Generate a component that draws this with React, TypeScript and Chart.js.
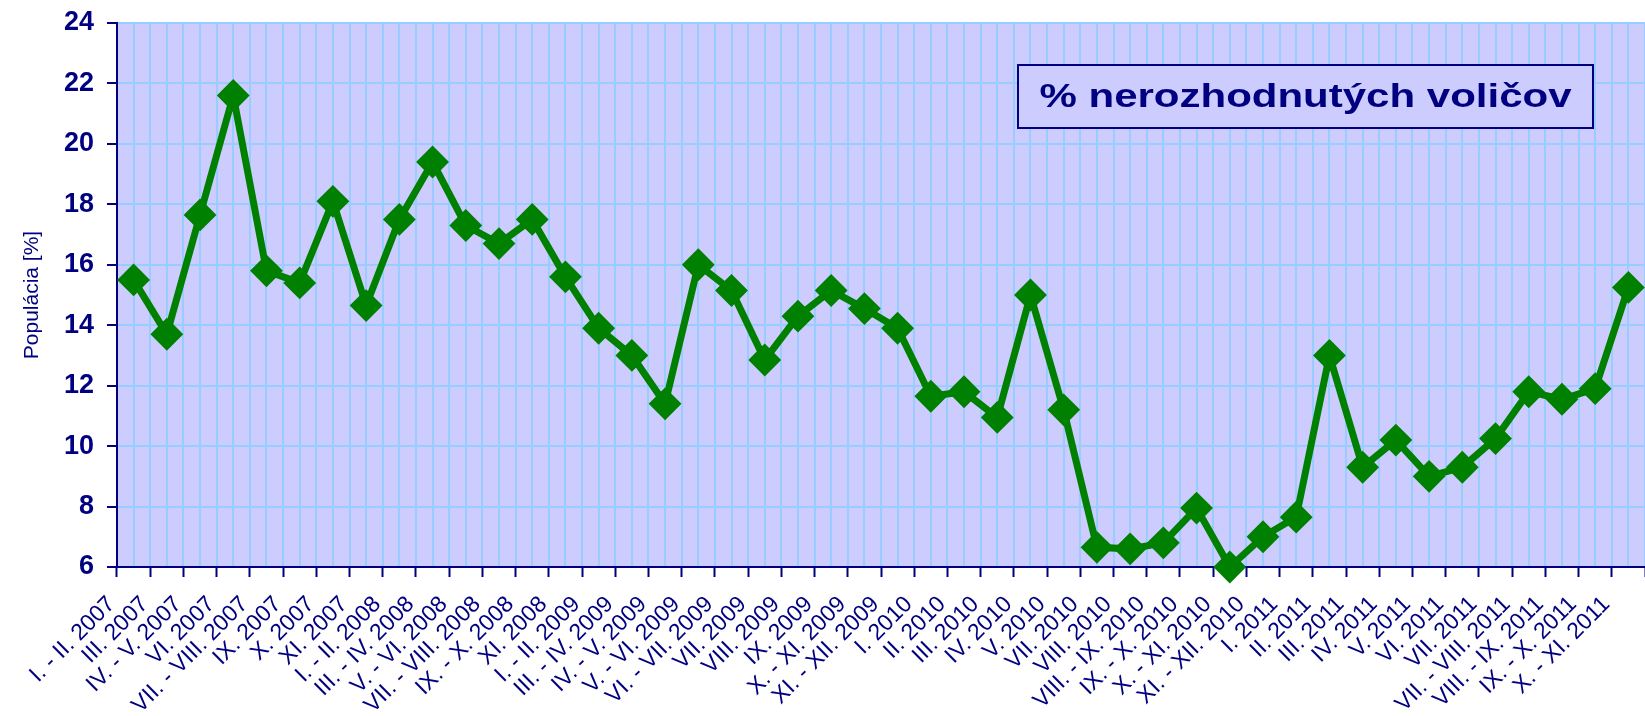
import React, { useEffect, useRef } from 'react';
import { Chart, registerables } from 'chart.js';

Chart.register(...registerables);

const categories: string[] = [
  'I. - II. 2007', 'III. 2007', 'IV. - V. 2007', 'VI. 2007', 'VII. - VIII. 2007',
  'IX. 2007', 'X. 2007', 'XI. 2007', 'I. - II. 2008', 'III. - IV. 2008',
  'V. - VI. 2008', 'VII. - VIII. 2008', 'IX. - X. 2008', 'XI. 2008', 'I. - II. 2009',
  'III. - IV. 2009', 'IV. - V. 2009', 'V. - VI. 2009', 'VI. - VII. 2009', 'VII. 2009',
  'VIII. 2009', 'IX. 2009', 'X. - XI. 2009', 'XI. - XII. 2009', 'I. 2010',
  'II. 2010', 'III. 2010', 'IV. 2010', 'V. 2010', 'VII. 2010',
  'VIII. 2010', 'VIII. - IX. 2010', 'IX. - X. 2010', 'X. - XI. 2010', 'XI. - XII. 2010',
  'I. 2011', 'II. 2011', 'III. 2011', 'IV. 2011', 'V. 2011',
  'VI. 2011', 'VII. 2011', 'VII. - VIII. 2011', 'VIII. - IX. 2011', 'IX. - X. 2011',
  'X. - XI. 2011',
];

const undecidedPct: number[] = [
  15.5, 13.7, 17.65, 21.6, 15.8,
  15.4, 18.1, 14.65, 17.5, 19.4,
  17.3, 16.7, 17.5, 15.6, 13.9,
  13.0, 11.4, 16.0, 15.15, 12.85,
  14.3, 15.15, 14.55, 13.9, 11.65,
  11.8, 10.95, 15.0, 11.2, 6.65,
  6.6, 6.8, 7.95, 6.0, 7.0,
  7.65, 13.0, 9.3, 10.2, 9.0,
  9.3, 10.25, 11.8, 11.55, 11.9,
  15.25,
];

const yMin = 6;
const yMax = 24;
const yStep = 2;

const seriesLabel = '% nerozhodnutých voličov';
const yAxisTitle = 'Populácia [%]';

const NAVY = '#000080';
const GRID = '#99CCFF';
const PLOT_BG = '#CCCCFF';
const GREEN = '#008000';
const FONT = '"Liberation Sans", Arial, sans-serif';

const plotBackground = {
  id: 'plotBackground',
  beforeDraw(chart: any) {
    const { ctx, chartArea } = chart;
    ctx.save();
    ctx.fillStyle = PLOT_BG;
    ctx.fillRect(chartArea.left, chartArea.top, chartArea.right - chartArea.left, chartArea.bottom - chartArea.top);
    ctx.restore();
  },
};

const legendBox = {
  id: 'legendBox',
  afterDatasetsDraw(chart: any) {
    const { ctx, chartArea } = chart;
    const label = chart.data.datasets[0].label as string;
    const w = 575;
    const h = 63;
    const x = chartArea.right - 52 - w;
    const y = chartArea.top + 42;
    ctx.save();
    ctx.fillStyle = PLOT_BG;
    ctx.fillRect(x, y, w, h);
    ctx.strokeStyle = NAVY;
    ctx.lineWidth = 2;
    ctx.strokeRect(x, y, w, h);
    ctx.font = 'bold 34px ' + FONT;
    const tw = ctx.measureText(label).width;
    const sx = 532 / tw;
    ctx.translate(x + w / 2, y + 42);
    ctx.scale(sx, 1);
    ctx.fillStyle = NAVY;
    ctx.textAlign = 'center';
    ctx.textBaseline = 'alphabetic';
    ctx.fillText(label, 0, 0);
    ctx.restore();
  },
};

export default function App() {
  const canvasRef = useRef<HTMLCanvasElement | null>(null);

  useEffect(() => {
    if (!canvasRef.current) return;
    const chart = new Chart(canvasRef.current, {
      type: 'line',
      data: {
        labels: categories,
        datasets: [
          {
            label: seriesLabel,
            data: undecidedPct,
            xAxisID: 'x',
            yAxisID: 'y',
            borderColor: GREEN,
            backgroundColor: GREEN,
            borderWidth: 7,
            pointStyle: 'rectRot',
            pointRadius: 15,
            pointBorderWidth: 2,
            pointBorderColor: GREEN,
            pointBackgroundColor: GREEN,
            tension: 0,
            fill: false,
            clip: false as any,
          },
        ],
      },
      options: {
        responsive: false,
        animation: false,
        events: [],
        layout: { autoPadding: false, padding: { top: 23, right: 0, bottom: 0, left: 0 } },
        plugins: {
          legend: { display: false },
          tooltip: { enabled: false },
          title: { display: false },
        },
        scales: {
          x: {
            type: 'category',
            position: 'bottom',
            offset: true,
            grid: {
              offset: true,
              drawOnChartArea: false,
              drawTicks: true,
              tickLength: 10,
              tickColor: NAVY,
              tickWidth: 2,
            },
            border: { color: NAVY, width: 2 },
            ticks: {
              autoSkip: false,
              maxRotation: 45,
              minRotation: 45,
              color: NAVY,
              font: { family: FONT, size: 23 },
              padding: 14,
              labelOffset: -22,
            },
            afterFit(scale: any) {
              scale.height = 149;
              scale.paddingLeft = 0;
              scale.paddingRight = 0;
            },
          },
          xg: {
            type: 'linear',
            position: 'top',
            min: -0.5,
            max: categories.length - 0.5,
            ticks: { display: false, stepSize: 0.5, maxTicksLimit: 1000 },
            grid: { color: GRID, lineWidth: 2, drawTicks: false },
            border: { display: false },
            afterFit(scale: any) {
              scale.height = 0;
              scale.paddingLeft = 0;
              scale.paddingRight = 0;
            },
          },
          y: {
            type: 'linear',
            min: yMin,
            max: yMax,
            ticks: {
              stepSize: yStep,
              color: NAVY,
              font: { family: FONT, size: 27, weight: 'bold' },
              padding: 13,
            },
            grid: {
              color: GRID,
              lineWidth: 2,
              tickColor: NAVY,
              tickLength: 10,
              tickWidth: 2,
            },
            border: { color: NAVY, width: 2 },
            title: {
              display: true,
              text: yAxisTitle,
              color: NAVY,
              font: { family: FONT, size: 21 },
              padding: { top: 20, bottom: 0 },
            },
            afterFit(scale: any) {
              scale.width = 117;
              scale.paddingTop = 0;
              scale.paddingBottom = 0;
            },
          },
        },
      } as any,
      plugins: [plotBackground, legendBox],
    });
    return () => chart.destroy();
  }, []);

  return (
    <div style={{ position: 'fixed', left: 0, top: 0, width: 1645, height: 716, background: '#ffffff' }}>
      <canvas ref={canvasRef} width={1645} height={716} style={{ display: 'block' }} />
    </div>
  );
}
